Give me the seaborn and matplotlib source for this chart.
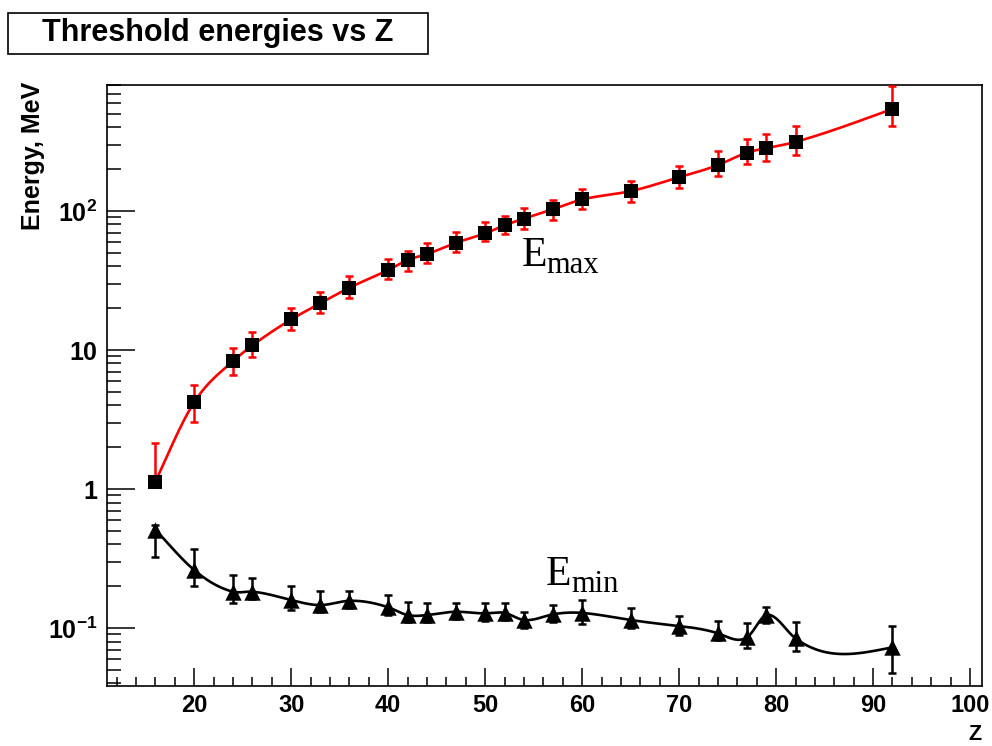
import numpy as np
import pandas as pd
import matplotlib
matplotlib.use("Agg")
import matplotlib.pyplot as plt
import seaborn as sns
from matplotlib.patches import Rectangle
from matplotlib.ticker import FixedLocator, LogLocator, MultipleLocator, NullFormatter, FixedFormatter

# ---------------- data ----------------
z_vals = [16, 20, 24, 26, 30, 33, 36, 40, 42, 44, 47, 50, 52, 54, 57, 60, 65, 70, 74, 77, 79, 82, 92]

e_max = [1.13, 4.22, 8.33, 10.8, 16.6, 21.7, 28.1, 37.6, 44.4, 49.0, 59.1, 69.1, 78.9, 88.1,
         103, 121, 139, 175, 214, 263, 283, 314, 542]
e_max_hi = [2.13, 5.6, 10.3, 13.5, 20.0, 26.0, 34.1, 45.1, 51.8, 59.1, 71.0, 83.8, 92.5, 104.5,
            120, 144, 165, 212, 269, 330, 358, 409, 795]
e_max_lo = [1.08, 3.05, 6.61, 8.86, 13.9, 18.6, 23.5, 32.2, 37.2, 42.0, 50.5, 60.8, 68.0, 74.6,
            86.1, 103, 115.5, 145.6, 178.6, 216.8, 228, 254, 409]

e_min = [0.51, 0.261, 0.1825, 0.1825, 0.159, 0.1463, 0.157, 0.141, 0.124, 0.124, 0.131, 0.1276,
         0.1285, 0.1143, 0.1255, 0.1285, 0.1143, 0.1034, 0.0916, 0.0857, 0.124, 0.0843, 0.0726]
e_min_hi = [0.55, 0.370, 0.2417, 0.2277, 0.200, 0.1855, 0.1855, 0.1718, 0.1546, 0.152, 0.1506, 0.1506,
            0.1506, 0.131, 0.1463, 0.159, 0.140, 0.1227, 0.1122, 0.108, 0.1424, 0.1099, 0.104]
e_min_lo = [0.326, 0.200, 0.1506, 0.1608, 0.1347, 0.131, 0.1386, 0.124, 0.111, 0.111, 0.1155, 0.1122,
            0.1138, 0.0995, 0.111, 0.1069, 0.1005, 0.0891, 0.082, 0.0714, 0.108, 0.0687, 0.0472]

x_major = [20, 30, 40, 50, 60, 70, 80, 90, 100]
y_major = [0.1, 1, 10, 100]
y_major_labels = [r"$10^{-1}$", "1", "10", r"$10^{2}$"]

title = "Threshold energies vs Z"
x_label = "Z"
y_label = "Energy, MeV"


def smooth_curve(x, y, n=600):
    """Smooth curve through the points (similar to ROOT's 'C' draw option):
    blend of a natural cubic spline and a Catmull-Rom style Hermite spline."""
    x = np.asarray(x, float)
    y = np.asarray(y, float)
    h = np.diff(x)
    N = len(x)
    A = np.zeros((N, N))
    b = np.zeros(N)
    A[0, 0] = 1
    A[-1, -1] = 1
    for i in range(1, N - 1):
        A[i, i - 1] = h[i - 1]
        A[i, i] = 2 * (h[i - 1] + h[i])
        A[i, i + 1] = h[i]
        b[i] = 6 * ((y[i + 1] - y[i]) / h[i] - (y[i] - y[i - 1]) / h[i - 1])
    M = np.linalg.solve(A, b)
    xs = np.linspace(x[0], x[-1], n)
    idx = np.clip(np.searchsorted(x, xs) - 1, 0, N - 2)
    x0 = x[idx]
    x1 = x[idx + 1]
    hh = x1 - x0
    t0 = x1 - xs
    t1 = xs - x0
    ys_nat = (M[idx] * t0 ** 3 / (6 * hh) + M[idx + 1] * t1 ** 3 / (6 * hh)
              + (y[idx] / hh - M[idx] * hh / 6) * t0 + (y[idx + 1] / hh - M[idx + 1] * hh / 6) * t1)
    m = np.zeros(N)
    m[1:-1] = (y[2:] - y[:-2]) / (x[2:] - x[:-2])
    m[0] = (y[1] - y[0]) / (x[1] - x[0])
    m[-1] = (y[-1] - y[-2]) / (x[-1] - x[-2])
    t = t1 / hh
    h00 = 2 * t ** 3 - 3 * t ** 2 + 1
    h10 = t ** 3 - 2 * t ** 2 + t
    h01 = -2 * t ** 3 + 3 * t ** 2
    h11 = t ** 3 - t ** 2
    ys_cr = h00 * y[idx] + h10 * hh * m[idx] + h01 * y[idx + 1] + h11 * hh * m[idx + 1]
    return xs, 0.5 * (ys_nat + ys_cr)


# ---------------- style ----------------
sns.set_style("white")
plt.rcParams["font.family"] = ["Liberation Sans", "DejaVu Sans"]
plt.rcParams["text.color"] = "black"
plt.rcParams["axes.labelcolor"] = "black"
plt.rcParams["xtick.color"] = "black"
plt.rcParams["ytick.color"] = "black"
plt.rcParams["mathtext.fontset"] = "custom"
plt.rcParams["mathtext.rm"] = "Liberation Sans:bold"
plt.rcParams["mathtext.it"] = "Liberation Sans:bold"
plt.rcParams["mathtext.bf"] = "Liberation Sans:bold"
plt.rcParams["mathtext.default"] = "rm"

W, H = 992, 746
fig = plt.figure(figsize=(W / 100, H / 100), dpi=100)
fig.patch.set_facecolor("white")
ax = fig.add_axes([107 / W, 1 - 686 / H, (981.7 - 107) / W, (686 - 85) / H])

df = pd.DataFrame({"Z": z_vals, "Emax": e_max, "Emin": e_min})

# smooth curves
for col, color in (("Emax", "#ff0000"), ("Emin", "black")):
    xs, ys = smooth_curve(df["Z"], np.log10(df[col]))
    sns.lineplot(x=xs, y=10 ** ys, ax=ax, color=color, lw=1.9, sort=False,
                 estimator=None, zorder=2)

# error bars
emax = np.array(e_max)
emin = np.array(e_min)
ax.errorbar(z_vals, emax, yerr=[emax - np.array(e_max_lo), np.array(e_max_hi) - emax],
            fmt="none", ecolor="#ff0000", elinewidth=1.8, capsize=3.2, capthick=1.8, zorder=3)
ax.errorbar(z_vals, emin, yerr=[emin - np.array(e_min_lo), np.array(e_min_hi) - emin],
            fmt="none", ecolor="black", elinewidth=1.8, capsize=3.2, capthick=1.8, zorder=3)

# markers
sns.scatterplot(data=df, x="Z", y="Emax", ax=ax, marker="s", s=100, color="black",
                edgecolor="black", linewidth=0, zorder=4)
sns.scatterplot(data=df, x="Z", y="Emin", ax=ax, marker="^", s=140, color="black",
                edgecolor="black", linewidth=0, zorder=4)

# axes
ax.set_yscale("log")
ax.set_xlim(11.0, 101.2)
ax.set_ylim(0.0383, 806)

ax.xaxis.set_major_locator(FixedLocator(x_major))
ax.xaxis.set_minor_locator(MultipleLocator(2))
ax.yaxis.set_major_locator(FixedLocator(y_major))
ax.yaxis.set_major_formatter(FixedFormatter(y_major_labels))
ax.yaxis.set_minor_locator(LogLocator(base=10, subs=np.arange(2, 10)))
ax.yaxis.set_minor_formatter(NullFormatter())

ax.tick_params(axis="both", which="both", direction="in", top=False, right=False,
               bottom=True, left=True, color="black", width=1.1)
ax.tick_params(axis="x", which="major", length=13, pad=6, labelsize=17)
ax.tick_params(axis="x", which="minor", length=6.5)
ax.tick_params(axis="y", which="major", length=20, pad=7, labelsize=18)
ax.tick_params(axis="y", which="minor", length=10)
for lab in ax.get_xticklabels() + ax.get_yticklabels():
    lab.set_fontweight("bold")

for sp in ax.spines.values():
    sp.set_color("black")
    sp.set_linewidth(1.2)

ax.set_xlabel(x_label, fontsize=15.5, fontweight="bold", loc="right")
ax.xaxis.label.set_verticalalignment("bottom")
ax.xaxis.set_label_coords(1.0, -0.0982)
ax.set_ylabel(y_label, fontsize=18, fontweight="bold", loc="top")
ax.yaxis.set_label_coords(-0.071, 1.006)

# title box
fig.patches.append(Rectangle((8 / W, 1 - 54 / H), 420 / W, 41 / H, transform=fig.transFigure,
                             facecolor="white", edgecolor="black", lw=1.2, zorder=1))
fig.text(218 / W, 1 - 40.7 / H, title, ha="center", va="baseline", fontsize=22,
         fontweight="bold", zorder=2)

# curve labels
serif = ["Liberation Serif", "DejaVu Serif"]
fig.text(521.7 / W, 1 - 266 / H, "E", family=serif, fontsize=30, ha="left", va="baseline")
fig.text(546 / W, 1 - 273.3 / H, "max", family=serif, fontsize=22, ha="left", va="baseline")
fig.text(546 / W, 1 - 585 / H, "E", family=serif, fontsize=30, ha="left", va="baseline")
fig.text(571 / W, 1 - 591.7 / H, "min", family=serif, fontsize=22, ha="left", va="baseline")

fig.savefig("out.png", dpi=100, facecolor="white")
